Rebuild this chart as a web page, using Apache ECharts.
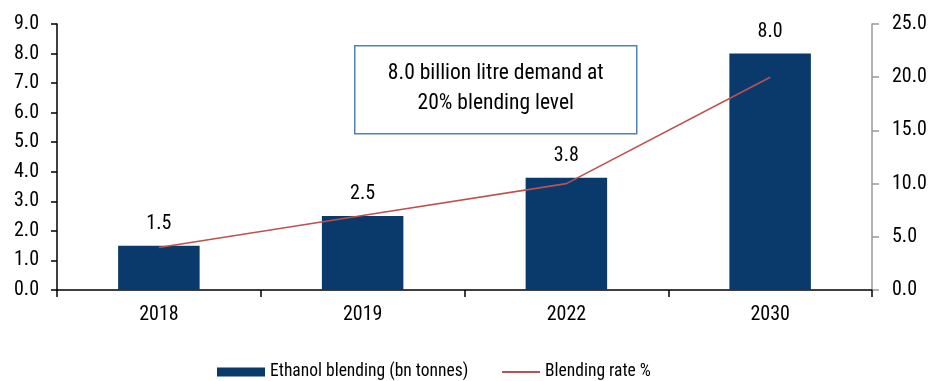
<!DOCTYPE html>
<html>
<head>
<meta charset="utf-8">
<script src="https://cdn.jsdelivr.net/npm/echarts@6/dist/echarts.min.js"></script>
<style>
  html, body { margin: 0; padding: 0; background: #fff; }
  #chart { width: 930px; height: 381px; }
</style>
</head>
<body>
<div id="chart"></div>
<script>
// Ethanol blending volumes and blending rate by year
const years = ['2018', '2019', '2022', '2030'];
const ethanolBlending = [1.5, 2.5, 3.8, 8.0];   // bn tonnes (left axis)
const blendingRate = [4.0, 7.0, 10.0, 20.0];    // % (right axis)
const seriesNames = ['Ethanol blending (bn tonnes)', 'Blending rate %'];
const noteLines = ['8.0 billion litre demand at', '20% blending level'];

const FONT = '"Liberation Sans Narrow", "Roboto Condensed", Roboto, sans-serif';
const BAR = '#093a6b';
const LINE = '#c0504d';

const chart = echarts.init(document.getElementById('chart'), null, { renderer: 'canvas' });

const legendText = { fontFamily: FONT, fontSize: 17.5, color: '#000' };

chart.setOption({
  animation: false,
  textStyle: { fontFamily: FONT },
  grid: { left: 57, right: 58, top: 24, bottom: 91, containLabel: false },
  legend: [
    {
      left: 212, top: 358,
      itemWidth: 48, itemHeight: 9,
      textStyle: legendText,
      data: [{ name: seriesNames[0], icon: 'rect' }]
    },
    {
      left: 497, top: 358,
      itemWidth: 38, itemHeight: 2,
      textStyle: legendText,
      itemStyle: { color: LINE },
      lineStyle: { color: LINE, width: 0 },
      data: [{ name: seriesNames[1], icon: 'path://M0,0L38,0L38,2L0,2Z' }]
    }
  ],
  xAxis: {
    type: 'category',
    data: years,
    axisLine: { lineStyle: { color: '#000', width: 1.5 } },
    axisTick: { show: true, length: 7, lineStyle: { color: '#000', width: 1.5 } },
    axisLabel: { color: '#000', fontFamily: FONT, fontSize: 20, margin: 15 }
  },
  yAxis: [
    {
      type: 'value', min: 0, max: 9, interval: 1,
      axisLine: { show: true, lineStyle: { color: '#000', width: 1.5 } },
      axisTick: { show: true, length: 6, lineStyle: { color: '#000', width: 1.5 } },
      splitLine: { show: false },
      axisLabel: { color: '#000', fontFamily: FONT, fontSize: 20, margin: 18,
        formatter: v => v.toFixed(1) }
    },
    {
      type: 'value', min: 0, max: 25, interval: 5,
      position: 'right',
      axisLine: { show: true, lineStyle: { color: '#999', width: 1.5 } },
      axisTick: { show: true, length: 7, lineStyle: { color: '#999', width: 1.5 } },
      splitLine: { show: false },
      axisLabel: { color: '#000', fontFamily: FONT, fontSize: 20, margin: 20,
        formatter: v => v.toFixed(1) }
    }
  ],
  series: [
    {
      name: seriesNames[0],
      type: 'bar',
      yAxisIndex: 0,
      data: ethanolBlending,
      barWidth: '40%',
      itemStyle: { color: BAR },
      label: {
        show: true, position: 'top', distance: 12,
        color: '#000', fontFamily: FONT, fontSize: 20,
        formatter: p => p.value.toFixed(1)
      },
      z: 2
    },
    {
      name: seriesNames[1],
      type: 'line',
      yAxisIndex: 1,
      data: blendingRate,
      symbol: 'none',
      lineStyle: { color: LINE, width: 1.6 },
      itemStyle: { color: LINE },
      z: 3
    }
  ],
  graphic: [
    {
      type: 'group',
      left: 354,
      top: 45,
      children: [
        {
          type: 'rect',
          shape: { x: 0, y: 0, width: 282, height: 88 },
          style: { fill: '#fff', stroke: '#4f81bd', lineWidth: 1.5 }
        },
        {
          type: 'text',
          x: 141, y: 43,
          style: {
            text: noteLines.join('\n'),
            align: 'center', verticalAlign: 'middle',
            font: '21.5px ' + FONT, fill: '#000', lineHeight: 30
          }
        }
      ]
    }
  ]
});
</script>
</body>
</html>
